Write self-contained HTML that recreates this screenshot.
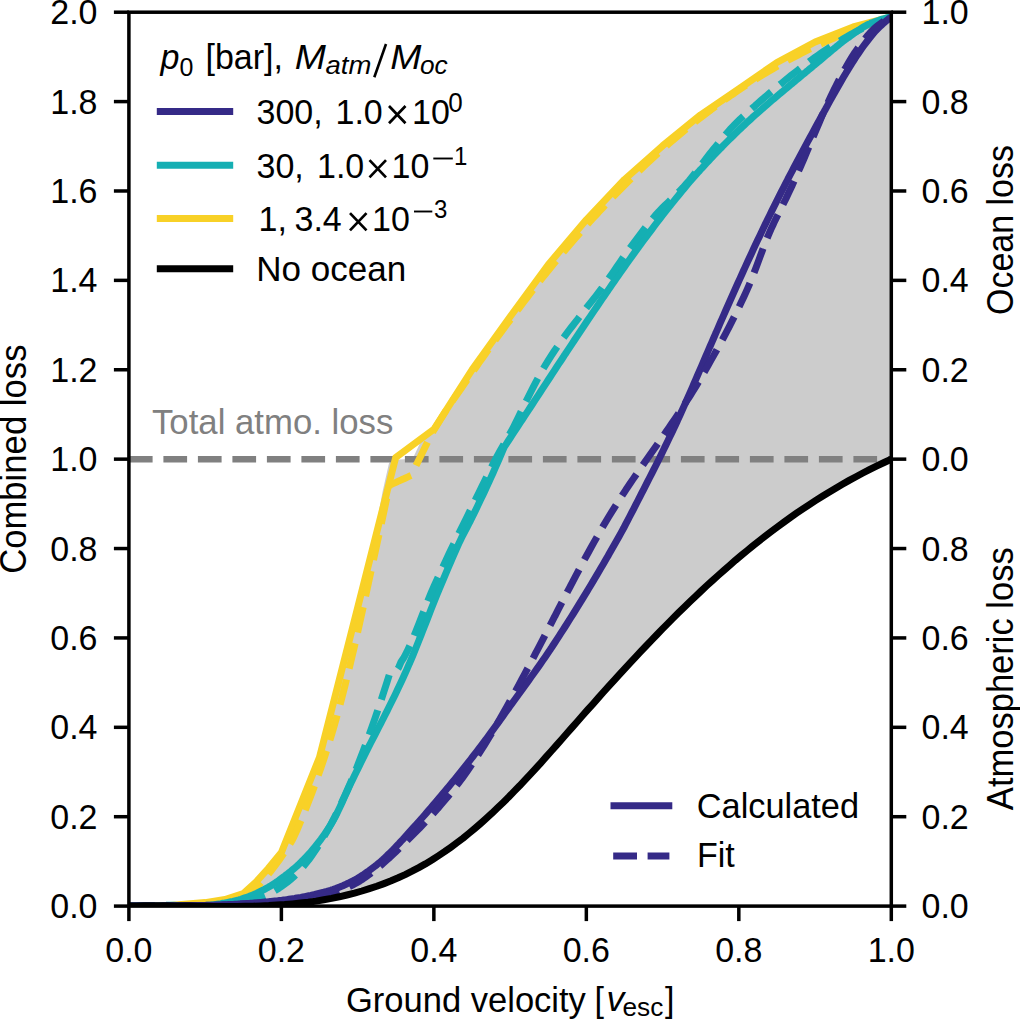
<!DOCTYPE html>
<html><head><meta charset="utf-8"><style>
html,body{margin:0;padding:0;background:#fff;width:1020px;height:1019px;overflow:hidden}
svg{display:block;font-family:"Liberation Sans",sans-serif}
</style></head><body>
<svg width="1020" height="1019" viewBox="0 0 1020 1019">
<rect width="1020" height="1019" fill="#fff"/>
<defs><clipPath id="ax"><rect x="128.9" y="12.2" width="762.40" height="893.90"/></clipPath></defs>
<g clip-path="url(#ax)">
<polygon points="128.9,906.1 167.0,905.8 205.1,902.6 225.0,899.5 243.3,893.5 256.5,881.5 268.2,868.5 281.4,852.5 319.5,757.3 357.6,607.9 375.5,530.0 382.5,492.0 389.1,462.7 398.4,459.5 412.6,459.0 419.9,443.2 425.0,438.0 431.8,431.0 433.9,429.3 472.0,369.9 510.1,316.7 548.2,264.7 586.3,219.8 624.5,179.5 662.6,145.8 700.7,114.8 738.8,89.0 776.9,62.5 815.1,42.0 853.2,27.0 891.3,17.0 891.3,459.2 891.3,459.2 884.1,462.5 877.0,465.9 869.9,469.4 862.9,473.0 856.0,476.7 849.2,480.4 842.4,484.3 835.7,488.2 829.0,492.2 822.4,496.2 815.8,500.4 809.4,504.6 802.9,508.9 796.5,513.2 790.2,517.6 784.0,522.1 777.7,526.7 771.6,531.3 765.4,536.0 759.4,540.7 753.3,545.5 747.4,550.4 741.4,555.3 735.5,560.2 729.7,565.3 723.9,570.3 718.1,575.5 712.4,580.6 706.7,585.8 701.0,591.1 695.4,596.4 689.8,601.8 684.2,607.2 678.7,612.6 673.1,618.1 667.7,623.6 662.2,629.1 656.8,634.7 651.4,640.3 646.0,646.0 640.6,651.6 635.3,657.3 629.9,663.1 624.6,668.8 619.3,674.6 614.1,680.4 608.8,686.2 603.5,692.0 598.3,697.9 593.1,703.8 587.8,709.6 582.6,715.5 577.4,721.5 572.2,727.4 567.0,733.3 561.8,739.2 556.6,745.1 551.4,751.0 546.1,756.9 540.9,762.8 535.6,768.6 530.3,774.4 524.9,780.1 519.6,785.8 514.1,791.4 508.7,797.0 503.2,802.4 497.6,807.8 492.0,813.2 486.3,818.4 480.6,823.5 474.8,828.5 468.9,833.4 463.0,838.2 456.9,842.8 450.8,847.3 444.6,851.7 438.3,855.9 431.9,860.0 425.4,863.9 418.8,867.6 412.0,871.2 405.2,874.6 398.2,877.8 391.2,880.8 384.0,883.6 376.7,886.3 369.4,888.7 361.9,891.0 354.4,893.1 346.9,895.0 339.2,896.8 331.5,898.4 323.8,899.8 316.0,901.1 308.2,902.2 300.4,903.1 292.5,903.9 284.6,904.6 276.7,905.1 268.8,905.6 260.9,905.9 253.0,906.2 245.1,906.3 237.2,906.4 229.3,906.5 221.4,906.5 213.5,906.4 205.6,906.3 197.8,906.2 190.0,906.1 182.2,906.0 174.4,905.9 166.7,905.8 159.1,905.8 151.4,905.8 143.9,905.8 136.4,905.9 128.9,906.1" fill="#cccccc" stroke="none"/>
<line x1="128.9" y1="459.2" x2="891.3" y2="459.2" stroke="#808080" stroke-width="6.5" stroke-dasharray="23.7 10.8"/>
<polyline points="128.9,906.1 167.0,905.8 205.1,902.6 225.0,899.5 243.3,893.5 256.5,881.5 268.2,868.5 281.4,852.5 319.5,757.3 357.6,607.9 395.7,457.5 433.9,429.3 472.0,369.9 510.1,316.7 548.2,264.7 586.3,219.8 624.5,179.5 662.6,145.8 700.7,114.8 738.8,89.0 776.9,62.5 815.1,42.0 853.2,27.0 891.3,17.0" fill="none" stroke="#f8d127" stroke-width="7.0" stroke-linejoin="round"/>
<polyline points="128.9,906.1 131.9,906.1 134.9,906.1 137.9,906.1 140.9,906.0 143.9,906.0 146.9,906.0 149.9,906.0 152.9,905.9 155.9,905.9 158.9,905.8 161.9,905.8 164.9,905.7 167.9,905.7 170.0,905.6 170.9,905.6 173.9,905.5 176.9,905.4 179.9,905.3 182.9,905.1 185.9,905.0 188.9,904.8 191.9,904.6 194.9,904.4 195.0,904.4 197.9,904.2 200.9,903.9 203.9,903.5 206.9,903.1 209.9,902.7 212.9,902.3 215.3,901.9 215.9,901.8 218.9,901.3 221.9,900.7 224.9,900.1 227.9,899.4 230.9,898.6 232.9,898.1 233.9,897.8 236.9,896.9 239.9,895.9 242.9,894.7 245.9,893.5 247.0,892.9 248.9,891.9 251.9,890.1 254.9,887.9 257.9,885.5 259.0,884.6 260.9,882.8 263.9,879.6 266.9,876.1 269.9,872.3 271.0,871.0 272.9,868.5 275.9,864.5 278.9,860.4 281.9,856.1 283.0,854.5 284.9,851.7 287.9,847.4 290.9,842.5 292.0,840.6 293.9,836.9 296.9,830.4 299.9,823.2 302.9,815.9 303.5,814.4 305.9,808.4 308.9,800.8 311.9,792.9 314.9,784.8 317.9,776.4 320.9,767.8 323.5,760.1 323.9,758.9 326.9,749.7 329.9,740.1 332.9,730.2 335.9,719.8 337.5,714.1 338.9,709.0 341.9,697.7 344.9,685.9 347.9,673.7 350.9,661.3 352.5,654.5 353.9,648.6 356.9,635.5 359.9,622.1 362.9,608.5 365.9,594.7 368.9,580.8 371.5,568.9 371.9,567.1 374.9,553.3 377.9,539.5 380.9,525.5 383.9,511.6 386.9,497.5 389.5,485.3 392.5,483.9 395.5,482.6 398.5,481.2 401.5,479.8 404.5,478.5 407.5,477.1 410.5,475.7 411.2,475.4 431.5,434.0 446.5,409.7 449.5,405.3 452.5,400.9 455.5,396.6 458.3,392.5 458.5,392.2 461.5,387.9 464.5,383.5 467.5,379.2 468.4,377.9 470.5,374.9 473.5,370.7 476.5,366.4 479.5,362.1 482.5,357.9 485.5,353.7 487.2,351.3 488.5,349.5 491.5,345.3 494.5,341.1 497.5,337.0 500.0,333.6 500.5,332.9 503.5,328.9 506.5,324.8 509.5,320.8 512.5,316.8 515.5,312.8 518.5,308.8 521.5,304.8 524.5,300.9 527.5,297.0 530.5,293.1 533.5,289.2 536.5,285.3 539.5,281.5 542.5,277.7 545.5,274.0 547.0,272.1 548.5,270.3 551.5,266.6 554.5,262.9 557.5,259.3 560.5,255.7 563.5,252.1 566.5,248.5 569.5,245.0 572.5,241.5 575.5,238.0 578.5,234.6 581.5,231.2 584.5,227.8 586.5,225.5 587.5,224.4 590.5,221.0 593.5,217.7 596.5,214.5 599.5,211.2 602.5,208.0 605.5,204.8 608.5,201.6 610.0,200.1 611.5,198.5 614.5,195.4 617.5,192.3 620.5,189.2 623.5,186.2 626.5,183.2 629.5,180.2 632.5,177.3 633.0,176.8 635.5,174.4 638.5,171.5 641.5,168.7 644.5,165.8 647.5,163.0 650.5,160.2 653.5,157.5 656.5,154.7 659.5,152.0 662.5,149.3 665.5,146.7 668.5,144.0 671.5,141.4 674.0,139.3 674.5,138.9 677.5,136.3 680.5,133.8 683.5,131.3 686.5,128.9 689.5,126.4 692.5,124.0 695.5,121.6 698.5,119.3 701.5,116.9 704.5,114.6 707.5,112.4 710.5,110.1 711.0,109.7 713.5,107.9 716.5,105.7 719.5,103.5 722.5,101.3 725.5,99.2 728.5,97.1 731.5,95.0 734.5,93.0 737.5,90.9 740.5,88.9 742.0,87.9 743.5,86.9 746.5,85.0 749.5,83.0 752.5,81.1 755.5,79.2 758.5,77.4 761.5,75.5 764.5,73.7 767.5,71.9 768.0,71.6 770.5,70.2 773.5,68.4 776.5,66.7 779.5,65.0 782.5,63.3 785.5,61.7 788.5,60.0 791.5,58.4 793.5,57.4 794.5,56.8 797.5,55.3 800.5,53.7 803.5,52.2 806.5,50.7 809.5,49.2 812.5,47.8 815.5,46.4 818.5,44.9 819.0,44.7 821.5,43.6 824.5,42.2 827.5,40.8 830.5,39.5 833.5,38.2 836.5,36.9 839.5,35.7 842.5,34.4 844.5,33.6 845.5,33.2 848.5,32.0 851.5,30.8 854.5,29.7 857.5,28.5 860.5,27.4 863.5,26.3 866.5,25.2 869.5,24.1 870.0,24.0 872.5,23.1 875.5,22.1 878.5,21.1 881.5,20.1 884.5,19.1 887.5,18.2 890.5,17.2 891.3,17.0" fill="none" stroke="#f8d127" stroke-width="7.0" stroke-linejoin="round" stroke-dasharray="25.9 11.2"/>
<polyline points="128.9,906.1 130.9,906.1 132.9,906.1 134.9,906.1 136.9,906.0 138.9,906.0 140.9,906.0 142.9,906.0 144.9,906.0 146.9,906.0 148.9,906.0 150.9,905.9 152.9,905.9 154.9,905.9 156.9,905.9 158.9,905.9 160.9,905.8 162.9,905.8 164.9,905.8 166.9,905.8 167.0,905.8 168.9,905.8 170.9,905.8 172.9,905.7 174.9,905.7 176.9,905.7 178.9,905.7 180.9,905.7 182.9,905.7 184.9,905.7 186.9,905.6 188.9,905.6 190.9,905.6 192.9,905.6 194.9,905.6 196.9,905.5 198.9,905.5 200.9,905.5 202.9,905.4 204.9,905.4 205.1,905.4 206.9,905.3 208.9,905.2 210.9,905.1 212.9,904.9 214.9,904.6 216.9,904.3 218.9,904.0 220.9,903.7 222.9,903.3 224.9,903.0 226.9,902.6 228.9,902.2 230.9,901.8 232.9,901.4 234.9,900.9 236.9,900.4 238.9,899.9 240.9,899.3 242.9,898.6 244.9,897.9 246.9,897.2 248.9,896.5 250.6,895.8 250.9,895.7 252.9,894.9 254.9,894.1 256.9,893.2 258.9,892.2 260.9,891.2 262.9,890.2 264.9,889.1 266.9,888.0 268.2,887.3 268.9,886.9 270.9,885.7 272.9,884.4 274.9,883.1 276.9,881.8 278.9,880.4 280.9,878.9 282.9,877.4 284.7,876.1 284.9,875.9 286.9,874.4 288.9,872.8 290.9,871.2 292.9,869.5 294.9,867.8 296.9,866.1 298.9,864.2 300.9,862.3 302.9,860.3 303.5,859.7 304.9,858.3 306.9,856.1 308.9,854.0 310.9,851.7 312.9,849.4 314.9,847.0 316.9,844.5 318.9,841.9 320.9,839.3 322.9,836.5 324.9,833.7 326.9,830.7 328.9,827.7 330.6,825.0 330.9,824.5 332.9,821.1 334.9,817.4 336.9,813.4 338.9,809.3 340.9,805.0 342.9,800.5 344.9,796.1 346.9,791.7 348.9,787.3 350.9,783.0 351.8,781.2 352.9,778.9 354.9,774.8 356.9,770.7 358.9,766.6 360.9,762.5 362.9,758.4 364.9,754.4 366.0,752.2 366.9,750.4 368.9,746.4 370.9,742.5 372.9,738.6 374.9,734.8 376.9,730.9 378.9,727.0 380.9,723.1 382.5,720.0 382.9,719.2 384.9,715.2 386.9,711.3 388.9,707.3 390.9,703.3 392.9,699.2 394.9,695.2 396.9,691.0 397.8,689.1 398.9,686.8 400.9,682.5 402.9,678.2 404.9,673.8 406.9,669.3 408.9,664.7 409.8,662.7 410.9,660.1 412.9,655.3 414.9,650.5 416.9,645.5 418.9,640.5 420.9,635.4 422.9,630.3 424.9,625.2 426.9,620.1 428.9,614.9 430.9,609.8 432.9,604.8 434.9,599.8 436.9,594.8 438.9,590.0 439.5,588.5 440.9,585.2 442.9,580.4 444.9,575.6 446.9,570.9 448.9,566.1 450.9,561.5 452.9,556.8 454.9,552.3 456.9,547.8 458.9,543.4 460.9,539.2 461.8,537.3 462.9,535.1 464.9,531.3 466.9,527.5 468.9,523.7 470.0,521.6 470.9,519.8 472.9,515.7 474.9,511.6 476.9,507.5 478.9,503.3 480.9,499.1 482.9,494.9 484.9,490.7 486.9,486.3 488.9,482.0 490.9,477.6 492.9,473.2 494.9,468.7 496.9,464.1 498.9,459.5 500.9,454.9 502.9,450.2 504.2,447.1 506.2,444.1 508.2,441.0 510.2,438.0 512.2,434.9 514.2,431.9 516.2,428.8 518.2,425.8 520.2,422.7 522.2,419.7 524.2,416.6 526.2,413.6 528.2,410.6 530.2,407.5 532.2,404.5 534.2,401.4 536.2,398.4 536.5,397.9 538.2,395.3 540.2,392.3 542.2,389.2 544.2,386.1 546.2,383.1 548.2,380.0 550.2,377.0 552.2,373.9 554.2,370.8 556.2,367.8 558.2,364.7 560.2,361.7 562.2,358.7 564.2,355.6 565.3,354.0 566.2,352.6 568.2,349.6 570.2,346.6 572.2,343.6 574.2,340.5 576.2,337.5 578.2,334.5 580.2,331.5 582.2,328.5 584.2,325.5 586.2,322.5 588.2,319.6 590.2,316.6 592.2,313.6 594.2,310.6 596.2,307.7 598.2,304.7 600.2,301.8 600.7,301.0 602.2,298.8 604.2,295.9 606.2,293.0 608.0,290.4 608.2,290.1 610.2,287.2 612.2,284.3 614.2,281.4 616.0,278.8 616.2,278.5 618.2,275.7 620.2,272.8 622.2,270.0 624.2,267.2 626.2,264.3 628.2,261.5 630.2,258.7 632.2,255.9 634.2,253.1 636.2,250.4 638.2,247.7 639.4,246.0 640.2,244.9 642.2,242.2 644.2,239.5 646.2,236.8 648.2,234.1 650.2,231.5 652.2,228.8 654.2,226.2 656.2,223.5 658.2,220.9 660.2,218.3 662.2,215.7 664.2,213.1 666.2,210.6 668.2,208.1 670.2,205.6 670.8,204.8 672.2,203.1 674.2,200.6 676.2,198.1 678.2,195.7 680.2,193.2 682.2,190.8 684.2,188.4 686.2,186.0 688.2,183.6 690.2,181.3 692.2,179.0 694.2,176.7 696.2,174.4 698.2,172.2 699.0,171.3 700.2,169.9 702.2,167.8 704.2,165.6 706.2,163.4 708.2,161.3 710.2,159.1 712.2,157.0 714.2,154.9 716.2,152.8 718.2,150.8 720.2,148.7 722.2,146.7 724.2,144.6 726.2,142.6 728.2,140.6 730.2,138.6 732.2,136.7 734.2,134.7 736.2,132.8 738.2,130.8 740.2,128.9 741.4,127.8 742.2,127.0 744.2,125.1 746.2,123.2 748.2,121.4 750.2,119.6 752.2,117.7 754.2,115.9 756.2,114.2 758.2,112.4 760.2,110.6 762.2,108.9 764.2,107.1 766.2,105.4 768.2,103.6 770.0,102.1 770.2,101.9 772.2,100.2 774.2,98.5 776.2,96.8 778.2,95.1 780.2,93.4 782.2,91.8 784.2,90.1 786.2,88.4 788.2,86.8 790.2,85.1 792.2,83.5 793.5,82.4 794.2,81.8 796.2,80.1 798.2,78.5 800.2,76.8 802.2,75.1 804.2,73.5 806.2,71.8 808.2,70.2 810.2,68.5 812.2,66.9 814.2,65.2 816.2,63.6 818.2,61.9 819.0,61.3 820.2,60.3 822.2,58.6 824.2,56.9 826.2,55.2 828.2,53.5 830.2,51.8 832.2,50.1 834.2,48.5 836.2,46.8 838.2,45.2 840.2,43.6 842.2,42.0 844.2,40.5 846.2,39.0 847.0,38.4 848.2,37.6 850.2,36.1 852.2,34.7 854.2,33.2 856.2,31.8 858.2,30.4 860.2,29.1 862.2,27.8 864.2,26.6 866.2,25.5 868.2,24.5 870.2,23.6 870.6,23.4 872.2,22.8 874.2,22.0 876.2,21.2 878.2,20.5 880.2,19.8 882.2,19.1 884.2,18.6 886.2,18.0 888.2,17.6 890.2,17.2 891.3,17.0" fill="none" stroke="#15afb3" stroke-width="7.0" stroke-linejoin="round"/>
<polyline points="128.9,906.1 131.9,906.0 134.9,905.9 137.9,905.8 140.9,905.7 143.9,905.7 146.9,905.6 149.9,905.5 152.9,905.5 155.9,905.4 158.9,905.4 161.9,905.4 164.9,905.3 167.0,905.3 167.9,905.3 170.9,905.3 173.9,905.3 176.9,905.4 179.9,905.4 182.9,905.4 185.9,905.4 188.9,905.4 191.9,905.4 194.9,905.4 197.9,905.4 200.9,905.4 203.9,905.4 205.1,905.4 206.9,905.4 209.9,905.4 212.9,905.2 215.9,905.1 218.9,904.9 221.9,904.6 224.9,904.4 227.9,904.1 230.9,903.8 232.9,903.6 233.9,903.5 236.9,903.1 239.9,902.6 242.9,902.0 245.9,901.4 248.9,900.7 251.9,899.9 254.9,899.1 257.9,898.2 260.9,897.2 262.4,896.7 263.9,896.2 266.9,895.0 269.9,893.5 272.9,891.9 275.9,890.1 278.9,888.2 281.9,886.1 284.9,883.9 287.9,881.6 290.9,879.2 291.8,878.5 293.9,876.6 296.9,873.8 299.9,870.5 302.9,867.1 305.9,863.4 307.1,861.9 308.9,859.6 311.9,855.4 314.9,851.1 317.9,846.5 320.9,841.6 323.9,836.6 326.9,831.4 329.9,826.1 330.6,824.8 332.9,820.5 335.9,814.7 338.9,808.5 341.9,802.1 344.9,795.4 347.9,788.7 350.0,783.9 350.9,781.8 353.9,774.7 356.9,767.2 359.9,759.6 362.9,751.8 363.4,750.5 365.9,743.8 368.9,735.6 371.9,727.2 374.9,718.6 377.5,711.0 377.9,709.8 380.9,700.9 383.9,691.7 386.9,682.4 389.5,674.1 392.5,673.4 395.5,671.5 396.6,670.6 398.5,667.8 401.0,662.0 404.0,657.4 404.1,657.2 407.0,651.7 410.0,645.3 413.0,638.4 416.0,631.1 419.0,623.5 422.0,615.8 425.0,608.1 428.0,600.5 431.0,593.2 433.5,587.4 434.0,586.3 437.0,579.6 440.0,573.1 443.0,566.6 446.0,560.2 449.0,553.8 452.0,547.5 455.0,541.3 456.0,539.2 458.0,535.1 461.0,529.1 464.0,523.1 465.0,521.1 467.0,517.0 470.0,510.9 473.0,504.7 476.0,498.6 479.0,492.4 482.0,486.3 485.0,480.2 488.0,474.0 491.0,468.0 494.0,462.1 495.1,459.9 497.0,456.4 500.0,451.0 503.0,445.8 506.0,440.6 509.0,435.3 512.0,429.9 513.9,426.3 515.0,424.1 518.0,418.0 521.0,411.7 524.0,405.5 524.9,403.7 527.0,399.5 530.0,393.5 533.0,387.6 536.0,381.8 539.0,376.2 542.0,370.9 542.2,370.5 545.0,365.8 548.0,360.9 551.0,356.1 554.0,351.5 557.0,347.1 560.0,342.7 561.2,341.0 563.0,338.4 566.0,334.4 569.0,330.4 572.0,326.5 575.0,322.6 578.0,318.8 580.6,315.4 581.0,314.9 584.0,311.1 587.0,307.2 590.0,303.4 593.0,299.6 596.0,295.8 599.0,291.9 601.3,288.8 602.0,287.9 605.0,283.7 608.0,279.5 611.0,275.2 614.0,270.9 617.0,266.5 620.0,262.2 623.0,257.8 626.0,253.6 629.0,249.4 631.5,246.0 632.0,245.3 635.0,241.3 638.0,237.3 641.0,233.3 644.0,229.4 647.0,225.5 650.0,221.8 653.0,218.2 655.1,215.7 656.0,214.7 659.0,211.4 662.0,208.3 665.0,205.3 668.0,202.4 671.0,199.5 674.0,196.6 677.0,193.7 680.0,190.6 683.0,187.5 686.0,184.2 686.5,183.6 689.0,180.7 692.0,177.0 695.0,173.2 698.0,169.2 701.0,165.2 704.0,161.3 707.0,157.3 710.0,153.5 711.3,151.9 713.0,149.8 716.0,146.1 719.0,142.4 722.0,138.8 725.0,135.2 728.0,131.8 731.0,128.4 732.9,126.4 734.0,125.3 737.0,122.3 740.0,119.3 743.0,116.5 746.0,113.8 749.0,111.1 752.0,108.4 755.0,105.8 756.6,104.3 758.0,103.1 761.0,100.5 764.0,97.9 767.0,95.3 770.0,92.8 773.0,90.3 776.0,87.8 779.0,85.3 782.0,82.9 783.3,81.8 785.0,80.4 788.0,78.0 791.0,75.6 794.0,73.3 797.0,70.9 800.0,68.6 803.0,66.3 806.0,64.0 809.0,61.8 811.4,60.0 812.0,59.6 815.0,57.4 818.0,55.3 821.0,53.2 824.0,51.1 827.0,49.1 830.0,47.1 833.0,45.2 834.3,44.4 836.0,43.3 839.0,41.5 842.0,39.6 845.0,37.8 848.0,36.1 851.0,34.4 854.0,32.7 857.0,31.2 860.0,29.7 863.0,28.3 866.0,26.9 869.0,25.6 872.0,24.2 875.0,23.0 878.0,21.8 881.0,20.6 884.0,19.5 887.0,18.4 890.0,17.4 891.3,17.0" fill="none" stroke="#15afb3" stroke-width="7.0" stroke-linejoin="round" stroke-dasharray="25.9 11.2"/>
<polyline points="128.9,906.1 130.9,906.1 132.9,906.1 134.9,906.1 136.9,906.1 138.9,906.0 140.9,906.0 142.9,906.0 144.9,906.0 146.9,906.0 148.9,906.0 150.9,905.9 152.9,905.9 154.9,905.9 156.9,905.9 158.9,905.9 160.9,905.9 162.9,905.8 164.9,905.8 166.9,905.8 167.0,905.8 168.9,905.8 170.9,905.8 172.9,905.8 174.9,905.7 176.9,905.7 178.9,905.7 180.9,905.7 182.9,905.7 184.9,905.6 186.9,905.6 188.9,905.6 190.9,905.6 192.9,905.5 194.9,905.5 196.9,905.5 198.9,905.5 200.9,905.4 202.9,905.4 204.9,905.4 205.1,905.4 206.9,905.3 208.9,905.3 210.9,905.2 212.9,905.2 214.9,905.1 216.9,905.0 218.9,905.0 220.9,904.9 222.9,904.8 224.9,904.7 226.9,904.7 228.9,904.6 230.9,904.5 232.9,904.4 234.9,904.3 236.9,904.2 238.9,904.1 240.9,904.0 242.9,903.8 243.3,903.8 244.9,903.7 246.9,903.6 248.9,903.5 250.9,903.3 252.9,903.2 254.9,903.0 256.9,902.9 258.9,902.7 260.9,902.5 262.9,902.3 264.9,902.1 266.9,901.9 268.9,901.7 270.0,901.6 270.9,901.5 272.9,901.3 274.9,901.1 276.9,900.9 278.9,900.6 280.9,900.4 282.9,900.1 284.9,899.9 286.9,899.6 288.9,899.3 290.9,899.0 292.9,898.7 294.9,898.4 295.3,898.3 296.9,898.0 298.9,897.7 300.9,897.4 302.9,897.0 304.9,896.6 306.9,896.2 308.9,895.8 310.9,895.4 312.9,894.9 314.9,894.5 316.9,894.0 318.9,893.5 320.9,893.0 322.9,892.5 324.9,891.9 326.9,891.4 328.9,890.8 330.6,890.3 330.9,890.2 332.9,889.6 334.9,888.9 336.9,888.1 338.9,887.4 340.9,886.5 342.9,885.7 344.9,884.8 346.9,883.8 348.9,882.9 350.9,881.9 352.9,880.9 354.1,880.2 354.9,879.8 356.9,878.7 358.9,877.5 360.9,876.3 362.9,875.0 364.9,873.6 366.9,872.2 368.9,870.8 370.9,869.3 372.9,867.8 374.9,866.3 376.9,864.7 377.6,864.1 378.9,863.1 380.9,861.4 382.9,859.6 384.9,857.7 386.9,855.8 388.9,853.8 390.0,852.8 390.9,851.9 392.9,849.9 394.9,847.8 396.9,845.7 398.9,843.6 400.9,841.4 402.9,839.3 404.9,837.1 406.9,834.9 408.9,832.6 410.9,830.4 412.9,828.2 413.6,827.4 414.9,826.0 416.9,823.7 418.9,821.5 420.9,819.2 422.9,817.0 424.9,814.7 426.9,812.4 428.9,810.0 430.9,807.7 432.9,805.4 434.9,803.1 436.9,800.7 437.1,800.5 438.9,798.4 440.9,796.0 442.9,793.6 444.9,791.2 446.9,788.8 448.9,786.4 450.9,784.0 452.9,781.6 454.9,779.2 456.9,776.7 458.9,774.2 460.7,772.0 460.9,771.7 462.9,769.2 464.9,766.7 466.9,764.2 468.9,761.6 470.9,759.1 472.9,756.5 474.9,753.9 476.9,751.3 478.9,748.7 480.9,746.0 482.9,743.4 484.2,741.7 484.9,740.7 486.9,738.1 488.9,735.4 490.9,732.6 492.9,729.9 494.9,727.2 496.9,724.4 498.9,721.6 500.9,718.9 502.9,716.1 504.9,713.3 506.9,710.5 508.9,707.8 510.8,705.1 510.9,705.0 512.9,702.2 514.9,699.5 516.9,696.7 518.9,694.0 520.9,691.2 522.9,688.4 524.9,685.7 526.9,682.9 528.9,680.1 530.9,677.3 532.9,674.5 534.9,671.7 536.9,668.9 538.9,666.1 540.9,663.2 542.2,661.3 542.9,660.3 544.9,657.4 546.9,654.5 548.9,651.6 550.0,649.9 550.9,648.6 552.9,645.5 554.9,642.5 556.9,639.4 558.9,636.3 560.9,633.2 562.9,630.1 564.9,627.0 566.9,623.8 568.9,620.7 570.9,617.5 572.9,614.3 574.9,611.1 576.9,607.9 578.9,604.6 580.9,601.4 581.4,600.6 582.9,598.1 584.9,594.9 586.9,591.6 588.9,588.3 590.9,584.9 592.9,581.6 594.9,578.2 596.9,574.9 598.9,571.5 600.9,568.1 602.9,564.7 604.9,561.2 606.9,557.8 608.0,555.9 608.9,554.3 610.9,550.8 612.9,547.3 614.9,543.8 616.9,540.3 618.9,536.7 620.9,533.1 622.9,529.5 623.7,528.1 625.7,524.2 627.7,520.4 629.7,516.5 631.7,512.6 633.7,508.8 635.7,504.9 637.7,501.0 639.7,497.1 641.7,493.2 642.5,491.6 643.7,489.3 645.7,485.4 647.7,481.4 649.7,477.5 651.7,473.6 653.7,469.7 655.7,465.7 657.7,461.7 659.7,457.7 659.8,457.5 661.7,453.6 663.7,449.5 665.7,445.4 667.7,441.3 669.7,437.1 671.7,432.9 673.7,428.7 675.7,424.4 677.1,421.4 677.7,420.1 679.7,415.7 681.7,411.3 683.7,406.9 685.7,402.4 687.7,397.8 689.7,393.3 691.7,388.8 692.8,386.3 693.7,384.2 695.7,379.6 697.7,375.0 699.7,370.4 701.7,365.8 703.7,361.1 705.7,356.5 707.7,351.8 709.7,347.2 710.0,346.5 711.7,342.6 713.7,338.0 715.5,333.8 715.7,333.4 717.7,328.8 719.7,324.2 721.0,321.2 721.7,319.6 723.7,315.1 725.7,310.5 727.7,306.0 729.7,301.5 731.7,297.0 733.7,292.5 735.7,288.0 737.7,283.5 739.7,279.1 741.7,274.7 743.7,270.3 744.8,267.9 745.7,265.9 747.7,261.6 749.7,257.2 751.7,252.9 753.7,248.6 755.7,244.3 757.7,240.1 759.7,235.9 761.7,231.7 763.7,227.5 765.7,223.4 766.4,221.9 767.7,219.2 769.7,215.2 771.7,211.1 773.7,207.1 775.7,203.1 777.7,199.1 779.7,195.1 781.7,191.2 783.7,187.3 785.7,183.4 787.7,179.5 788.0,178.9 789.7,175.6 791.7,171.8 793.7,168.0 795.7,164.2 797.7,160.4 799.7,156.6 801.7,152.9 803.7,149.1 805.7,145.4 807.7,141.7 809.5,138.3 809.7,138.0 811.7,134.3 813.7,130.6 815.7,126.9 817.7,123.3 819.7,119.6 821.7,116.0 823.7,112.3 825.4,109.2 825.7,108.7 827.7,105.1 829.7,101.4 831.7,97.8 833.7,94.3 834.0,93.7 835.7,90.7 837.7,87.2 839.7,83.7 841.7,80.2 843.7,76.8 845.7,73.4 845.8,73.3 847.7,70.1 849.7,66.9 851.7,63.6 853.7,60.5 855.7,57.4 857.6,54.6 857.7,54.4 859.7,51.5 861.7,48.6 863.7,45.8 865.7,43.1 867.7,40.5 869.4,38.3 869.7,37.9 871.7,35.5 873.7,33.1 875.7,30.8 877.2,29.3 877.7,28.7 879.7,26.8 881.7,24.9 883.7,23.0 885.7,21.3 887.7,19.7 889.7,18.1 891.3,17.0" fill="none" stroke="#352a87" stroke-width="7.0" stroke-linejoin="round"/>
<polyline points="128.9,906.1 131.9,906.1 134.9,906.1 137.9,906.1 140.9,906.1 143.9,906.1 146.9,906.1 149.9,906.1 152.9,906.1 155.9,906.1 158.9,906.1 161.9,906.0 164.9,906.0 167.9,906.0 170.9,906.0 173.9,906.0 176.9,906.0 179.9,906.0 182.9,906.0 185.9,905.9 188.9,905.9 191.9,905.9 194.9,905.9 197.9,905.9 200.0,905.9 200.9,905.8 203.9,905.8 206.9,905.7 209.9,905.7 212.9,905.6 215.9,905.4 218.9,905.3 221.9,905.2 224.9,905.0 227.9,904.9 230.9,904.7 233.9,904.5 236.9,904.3 239.9,904.1 242.9,903.9 245.9,903.7 248.9,903.6 250.0,903.5 251.9,903.4 254.9,903.2 257.9,903.0 260.9,902.8 263.9,902.5 266.9,902.3 269.9,902.1 272.9,901.8 275.9,901.6 278.9,901.3 281.9,901.0 284.9,900.7 287.9,900.4 290.9,900.1 293.9,899.8 295.3,899.6 296.9,899.4 299.9,899.0 302.9,898.7 305.9,898.3 308.9,897.8 311.9,897.4 314.9,896.9 317.9,896.3 320.9,895.8 323.9,895.2 326.9,894.5 329.9,893.8 330.6,893.7 332.9,893.1 335.9,892.1 338.9,891.1 341.9,889.9 344.9,888.6 347.9,887.3 350.9,885.8 353.9,884.3 354.1,884.2 356.9,882.7 359.9,880.9 362.9,879.0 365.9,876.9 368.9,874.7 371.9,872.4 374.9,870.1 377.9,867.7 378.8,867.0 380.9,865.3 383.9,862.7 386.9,860.0 389.9,857.3 390.0,857.2 392.9,854.5 395.9,851.7 398.9,848.8 401.9,845.9 404.9,842.9 407.9,839.9 410.9,836.9 413.6,834.1 413.9,833.8 416.9,830.8 419.9,827.7 422.9,824.6 425.9,821.4 428.9,818.2 431.9,815.0 434.9,811.7 437.1,809.2 437.9,808.3 440.9,804.8 443.9,801.3 446.9,797.8 449.9,794.1 452.9,790.4 455.9,786.5 458.9,782.6 460.7,780.2 461.9,778.6 464.9,774.4 467.9,770.2 470.9,765.8 473.9,761.3 476.9,756.7 479.9,752.1 482.9,747.4 484.2,745.3 485.9,742.6 488.9,737.7 491.9,732.7 494.9,727.6 497.9,722.4 500.9,717.2 503.9,711.9 506.9,706.6 509.9,701.2 510.8,699.6 512.9,695.9 515.9,690.4 518.9,684.8 521.9,679.2 523.4,676.4 524.9,673.6 527.9,668.0 530.9,662.3 533.9,656.6 535.9,652.7 536.9,650.8 539.9,645.1 542.9,639.3 545.9,633.5 548.9,627.7 551.9,621.9 554.8,616.2 554.9,616.1 557.9,610.2 560.9,604.4 563.9,598.6 566.9,592.8 569.9,587.1 570.4,586.1 572.9,581.3 575.9,575.6 578.9,570.0 581.9,564.3 584.9,558.7 586.1,556.5 587.9,553.2 590.9,547.8 593.9,542.4 596.9,537.1 599.9,531.8 601.8,528.5 602.9,526.6 605.9,521.5 608.0,518.0 608.9,516.5 611.9,511.7 614.9,506.9 617.9,502.1 620.9,497.5 623.9,492.8 626.0,489.6 626.9,488.3 629.9,483.8 632.9,479.4 635.9,475.0 638.9,470.7 641.9,466.4 642.5,465.5 644.9,462.0 647.9,457.8 650.9,453.5 653.9,449.3 656.9,445.0 659.9,440.7 661.4,438.5 662.9,436.4 665.9,432.0 668.9,427.7 671.9,423.3 674.9,418.9 677.9,414.5 680.2,411.0 680.9,409.9 683.9,405.3 686.9,400.7 689.9,396.0 692.9,391.2 695.9,386.3 697.5,383.6 698.9,381.3 701.9,376.2 704.9,371.0 707.9,365.8 710.9,360.4 713.9,355.1 716.3,350.8 716.9,349.7 719.9,344.2 722.9,338.7 725.9,333.1 727.3,330.4 728.9,327.3 731.9,321.4 734.9,315.4 737.9,309.4 740.9,303.1 743.9,296.7 746.9,290.1 749.3,284.6 749.9,283.2 752.9,275.8 755.9,268.0 758.9,259.9 761.9,251.7 764.9,243.8 767.9,236.4 768.0,236.1 770.9,229.4 773.3,224.2 773.9,222.9 776.9,216.7 779.9,210.7 782.9,204.7 785.9,198.7 787.5,195.3 788.9,192.3 791.9,185.9 794.9,179.3 797.9,172.6 800.9,165.8 801.5,164.4 803.9,158.8 806.9,151.7 809.9,144.5 812.9,137.4 813.6,135.8 815.9,130.4 818.9,123.3 821.9,116.2 824.9,109.3 827.9,102.7 828.6,101.2 830.9,96.3 833.9,90.1 836.9,84.0 839.9,78.2 842.9,72.5 845.8,67.4 845.9,67.2 848.9,62.1 851.9,57.2 854.9,52.5 857.9,48.1 860.9,44.0 861.1,43.7 863.9,40.1 866.9,36.4 869.9,33.0 872.9,29.8 875.9,27.1 876.0,27.0 878.9,24.7 881.9,22.5 884.9,20.4 887.9,18.6 890.9,17.2 891.3,17.0" fill="none" stroke="#352a87" stroke-width="7.0" stroke-linejoin="round" stroke-dasharray="25.9 11.2"/>
<polyline points="128.9,906.1 136.4,905.9 143.9,905.8 151.4,905.8 159.1,905.8 166.7,905.8 174.4,905.9 182.2,906.0 190.0,906.1 197.8,906.2 205.6,906.3 213.5,906.4 221.4,906.5 229.3,906.5 237.2,906.4 245.1,906.3 253.0,906.2 260.9,905.9 268.8,905.6 276.7,905.1 284.6,904.6 292.5,903.9 300.4,903.1 308.2,902.2 316.0,901.1 323.8,899.8 331.5,898.4 339.2,896.8 346.9,895.0 354.4,893.1 361.9,891.0 369.4,888.7 376.7,886.3 384.0,883.6 391.2,880.8 398.2,877.8 405.2,874.6 412.0,871.2 418.8,867.6 425.4,863.9 431.9,860.0 438.3,855.9 444.6,851.7 450.8,847.3 456.9,842.8 463.0,838.2 468.9,833.4 474.8,828.5 480.6,823.5 486.3,818.4 492.0,813.2 497.6,807.8 503.2,802.4 508.7,797.0 514.1,791.4 519.6,785.8 524.9,780.1 530.3,774.4 535.6,768.6 540.9,762.8 546.1,756.9 551.4,751.0 556.6,745.1 561.8,739.2 567.0,733.3 572.2,727.4 577.4,721.5 582.6,715.5 587.8,709.6 593.1,703.8 598.3,697.9 603.5,692.0 608.8,686.2 614.1,680.4 619.3,674.6 624.6,668.8 629.9,663.1 635.3,657.3 640.6,651.6 646.0,646.0 651.4,640.3 656.8,634.7 662.2,629.1 667.7,623.6 673.1,618.1 678.7,612.6 684.2,607.2 689.8,601.8 695.4,596.4 701.0,591.1 706.7,585.8 712.4,580.6 718.1,575.5 723.9,570.3 729.7,565.3 735.5,560.2 741.4,555.3 747.4,550.4 753.3,545.5 759.4,540.7 765.4,536.0 771.6,531.3 777.7,526.7 784.0,522.1 790.2,517.6 796.5,513.2 802.9,508.9 809.4,504.6 815.8,500.4 822.4,496.2 829.0,492.2 835.7,488.2 842.4,484.3 849.2,480.4 856.0,476.7 862.9,473.0 869.9,469.4 877.0,465.9 884.1,462.5 891.3,459.2" fill="none" stroke="#000000" stroke-width="7.0" stroke-linejoin="round"/>
</g>
<rect x="128.9" y="12.2" width="762.4" height="893.9" fill="none" stroke="#000" stroke-width="3.5"/>
<line x1="113.9" y1="906.10" x2="128.9" y2="906.10" stroke="#000" stroke-width="3.5"/>
<line x1="891.3" y1="906.10" x2="906.3" y2="906.10" stroke="#000" stroke-width="3.5"/>
<text transform="translate(97.5,918.20) scale(1,1.03)" font-size="34" text-anchor="end">0.0</text>
<text transform="translate(921.5,918.20) scale(1,1.03)" font-size="34">0.0</text>
<line x1="113.9" y1="816.71" x2="128.9" y2="816.71" stroke="#000" stroke-width="3.5"/>
<line x1="891.3" y1="816.71" x2="906.3" y2="816.71" stroke="#000" stroke-width="3.5"/>
<text transform="translate(97.5,828.81) scale(1,1.03)" font-size="34" text-anchor="end">0.2</text>
<text transform="translate(921.5,828.81) scale(1,1.03)" font-size="34">0.2</text>
<line x1="113.9" y1="727.32" x2="128.9" y2="727.32" stroke="#000" stroke-width="3.5"/>
<line x1="891.3" y1="727.32" x2="906.3" y2="727.32" stroke="#000" stroke-width="3.5"/>
<text transform="translate(97.5,739.42) scale(1,1.03)" font-size="34" text-anchor="end">0.4</text>
<text transform="translate(921.5,739.42) scale(1,1.03)" font-size="34">0.4</text>
<line x1="113.9" y1="637.93" x2="128.9" y2="637.93" stroke="#000" stroke-width="3.5"/>
<line x1="891.3" y1="637.93" x2="906.3" y2="637.93" stroke="#000" stroke-width="3.5"/>
<text transform="translate(97.5,650.03) scale(1,1.03)" font-size="34" text-anchor="end">0.6</text>
<text transform="translate(921.5,650.03) scale(1,1.03)" font-size="34">0.6</text>
<line x1="113.9" y1="548.54" x2="128.9" y2="548.54" stroke="#000" stroke-width="3.5"/>
<line x1="891.3" y1="548.54" x2="906.3" y2="548.54" stroke="#000" stroke-width="3.5"/>
<text transform="translate(97.5,560.64) scale(1,1.03)" font-size="34" text-anchor="end">0.8</text>
<text transform="translate(921.5,560.64) scale(1,1.03)" font-size="34">0.8</text>
<line x1="113.9" y1="459.15" x2="128.9" y2="459.15" stroke="#000" stroke-width="3.5"/>
<line x1="891.3" y1="459.15" x2="906.3" y2="459.15" stroke="#000" stroke-width="3.5"/>
<text transform="translate(97.5,471.25) scale(1,1.03)" font-size="34" text-anchor="end">1.0</text>
<text transform="translate(921.5,471.25) scale(1,1.03)" font-size="34">0.0</text>
<line x1="113.9" y1="369.76" x2="128.9" y2="369.76" stroke="#000" stroke-width="3.5"/>
<line x1="891.3" y1="369.76" x2="906.3" y2="369.76" stroke="#000" stroke-width="3.5"/>
<text transform="translate(97.5,381.86) scale(1,1.03)" font-size="34" text-anchor="end">1.2</text>
<text transform="translate(921.5,381.86) scale(1,1.03)" font-size="34">0.2</text>
<line x1="113.9" y1="280.37" x2="128.9" y2="280.37" stroke="#000" stroke-width="3.5"/>
<line x1="891.3" y1="280.37" x2="906.3" y2="280.37" stroke="#000" stroke-width="3.5"/>
<text transform="translate(97.5,292.47) scale(1,1.03)" font-size="34" text-anchor="end">1.4</text>
<text transform="translate(921.5,292.47) scale(1,1.03)" font-size="34">0.4</text>
<line x1="113.9" y1="190.98" x2="128.9" y2="190.98" stroke="#000" stroke-width="3.5"/>
<line x1="891.3" y1="190.98" x2="906.3" y2="190.98" stroke="#000" stroke-width="3.5"/>
<text transform="translate(97.5,203.08) scale(1,1.03)" font-size="34" text-anchor="end">1.6</text>
<text transform="translate(921.5,203.08) scale(1,1.03)" font-size="34">0.6</text>
<line x1="113.9" y1="101.59" x2="128.9" y2="101.59" stroke="#000" stroke-width="3.5"/>
<line x1="891.3" y1="101.59" x2="906.3" y2="101.59" stroke="#000" stroke-width="3.5"/>
<text transform="translate(97.5,113.69) scale(1,1.03)" font-size="34" text-anchor="end">1.8</text>
<text transform="translate(921.5,113.69) scale(1,1.03)" font-size="34">0.8</text>
<line x1="113.9" y1="12.20" x2="128.9" y2="12.20" stroke="#000" stroke-width="3.5"/>
<line x1="891.3" y1="12.20" x2="906.3" y2="12.20" stroke="#000" stroke-width="3.5"/>
<text transform="translate(97.5,24.30) scale(1,1.03)" font-size="34" text-anchor="end">2.0</text>
<text transform="translate(921.5,24.30) scale(1,1.03)" font-size="34">1.0</text>
<line x1="128.90" y1="906.1" x2="128.90" y2="921.1" stroke="#000" stroke-width="3.5"/>
<text transform="translate(128.90,961.8) scale(1,1.03)" font-size="34" text-anchor="middle">0.0</text>
<line x1="281.38" y1="906.1" x2="281.38" y2="921.1" stroke="#000" stroke-width="3.5"/>
<text transform="translate(281.38,961.8) scale(1,1.03)" font-size="34" text-anchor="middle">0.2</text>
<line x1="433.86" y1="906.1" x2="433.86" y2="921.1" stroke="#000" stroke-width="3.5"/>
<text transform="translate(433.86,961.8) scale(1,1.03)" font-size="34" text-anchor="middle">0.4</text>
<line x1="586.34" y1="906.1" x2="586.34" y2="921.1" stroke="#000" stroke-width="3.5"/>
<text transform="translate(586.34,961.8) scale(1,1.03)" font-size="34" text-anchor="middle">0.6</text>
<line x1="738.82" y1="906.1" x2="738.82" y2="921.1" stroke="#000" stroke-width="3.5"/>
<text transform="translate(738.82,961.8) scale(1,1.03)" font-size="34" text-anchor="middle">0.8</text>
<line x1="891.30" y1="906.1" x2="891.30" y2="921.1" stroke="#000" stroke-width="3.5"/>
<text transform="translate(891.30,961.8) scale(1,1.03)" font-size="34" text-anchor="middle">1.0</text>
<text transform="translate(26,459.2) rotate(-90) scale(1.02,1.06)" font-size="34" text-anchor="middle">Combined loss</text>
<text transform="translate(1013,230) rotate(-90) scale(1.0,1.06)" font-size="34" text-anchor="middle">Ocean loss</text>
<text transform="translate(1013,678.7) rotate(-90) scale(1.016,1.06)" font-size="34" text-anchor="middle">Atmospheric loss</text>
<text transform="translate(346.00,1011.50) scale(1.0160,1.0400)" font-size="34">Ground velocity</text>
<text transform="translate(594.50,1011.50) scale(1.0000,1.0400)" font-size="34">[</text>
<text transform="translate(606.50,1011.30) scale(1.0500,1.0400)" font-size="34" font-style="italic">v</text>
<text transform="translate(622.50,1015.70) scale(1.0500,1.0400)" font-size="25">esc</text>
<text transform="translate(665.00,1011.50) scale(1.0000,1.0400)" font-size="34">]</text>
<text transform="translate(152.00,434.00) scale(1.0220,1.0400)" font-size="34" fill="#808080">Total atmo. loss</text>
<text transform="translate(160.50,68.90) scale(1.0000,1.0400)" font-size="34" font-style="italic">p</text>
<text transform="translate(179.50,75.80) scale(1.0000,1.0400)" font-size="25">0</text>
<text transform="translate(205.50,68.90) scale(1.0000,1.0400)" font-size="34">[bar],</text>
<text transform="translate(294.80,68.90) scale(1.1000,1.0400)" font-size="34" font-style="italic">M</text>
<text transform="translate(325.50,73.80) scale(1.1000,1.0400)" font-size="25" font-style="italic">atm</text>
<line x1="374.3" y1="77.2" x2="386" y2="44" stroke="#000" stroke-width="2.6"/>
<text transform="translate(390.30,68.90) scale(1.1000,1.0400)" font-size="34" font-style="italic">M</text>
<text transform="translate(420.00,73.80) scale(1.0500,1.0400)" font-size="25" font-style="italic">oc</text>
<line x1="156.8" y1="111.5" x2="233.2" y2="111.5" stroke="#352a87" stroke-width="7.0"/>
<line x1="156.8" y1="165.3" x2="233.2" y2="165.3" stroke="#15afb3" stroke-width="7.0"/>
<line x1="156.8" y1="218.4" x2="233.2" y2="218.4" stroke="#f8d127" stroke-width="7.0"/>
<line x1="156.8" y1="268.8" x2="233.2" y2="268.8" stroke="#000000" stroke-width="7.0"/>
<text transform="translate(256.50,123.80) scale(1.0000,1.0400)" font-size="34">300,</text>
<text transform="translate(335.50,123.80) scale(1.0000,1.0400)" font-size="34">1.0</text>
<path d="M389,106.0 L405.5,123.3 M389,123.3 L405.5,106.0" stroke="#000" stroke-width="2.7" fill="none"/>
<text transform="translate(412.00,123.80) scale(1.0000,1.0400)" font-size="34">10</text>
<text transform="translate(448.30,112.00) scale(1.0000,1.0400)" font-size="26">0</text>
<text transform="translate(256.50,177.90) scale(1.0000,1.0400)" font-size="34">30,</text>
<text transform="translate(317.00,177.90) scale(1.0000,1.0400)" font-size="34">1.0</text>
<path d="M369.5,160.1 L386,177.4 M369.5,177.4 L386,160.1" stroke="#000" stroke-width="2.7" fill="none"/>
<text transform="translate(391.50,177.90) scale(1.0000,1.0400)" font-size="34">10</text>
<line x1="433.3" y1="158.5" x2="452.8" y2="158.5" stroke="#000" stroke-width="1.9"/>
<text transform="translate(454.00,165.00) scale(1.0000,1.0400)" font-size="24">1</text>
<text transform="translate(258.50,230.90) scale(1.0000,1.0400)" font-size="34">1,</text>
<text transform="translate(294.50,230.90) scale(1.0000,1.0400)" font-size="34">3.4</text>
<path d="M350,213.1 L366.5,230.4 M350,230.4 L366.5,213.1" stroke="#000" stroke-width="2.7" fill="none"/>
<text transform="translate(372.00,230.90) scale(1.0000,1.0400)" font-size="34">10</text>
<line x1="414" y1="211.5" x2="432.3" y2="211.5" stroke="#000" stroke-width="1.9"/>
<text transform="translate(434.00,218.00) scale(1.0000,1.0400)" font-size="24">3</text>
<text transform="translate(256.30,280.70) scale(1.0300,1.0400)" font-size="34">No ocean</text>
<line x1="610.5" y1="805.7" x2="672.3" y2="805.7" stroke="#352a87" stroke-width="7.0"/>
<line x1="613.2" y1="856" x2="669.4" y2="856" stroke="#352a87" stroke-width="7.0" stroke-dasharray="23.8 10.6"/>
<text transform="translate(696.80,818.40) scale(1.0100,1.0400)" font-size="34">Calculated</text>
<text transform="translate(697.00,867.30) scale(1.0000,1.0400)" font-size="34">Fit</text>
</svg></body></html>
